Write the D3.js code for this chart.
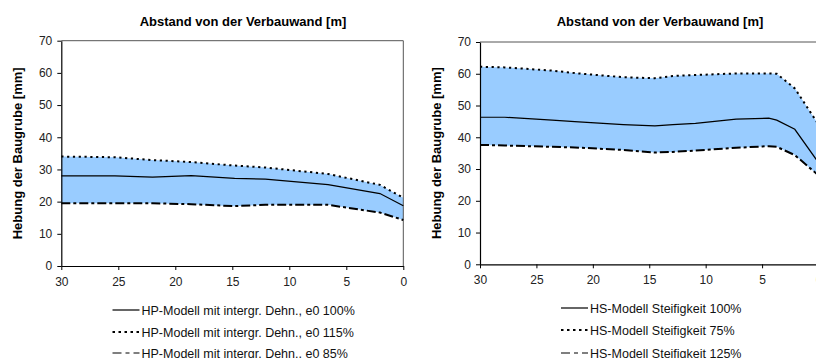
<!DOCTYPE html>
<html>
<head>
<meta charset="utf-8">
<script src="https://cdn.jsdelivr.net/npm/d3@7/dist/d3.min.js"></script>
<style>
  html, body { margin: 0; padding: 0; background: #fff; overflow: hidden; }
  svg { display: block; font-family: "Liberation Sans", Arial, sans-serif; }
</style>
</head>
<body>
<svg id="chart" width="816" height="358"></svg>
<script>
// Distance from the retaining wall [m] at which the heave was evaluated
const distHP = [30, 25.3, 22, 18.6, 14.8, 12.1, 6.6, 2.05, 0];
const distHS = [30, 27.8, 23.6, 21.6, 17.3, 14.5, 12.9, 10.9, 7.3, 4.4, 3.7, 2.1, 0];

// Heave of the excavation bottom [mm] – HP model with integrated dilatancy
const hpE0_100 = [28.0, 28.0, 27.6, 28.1, 27.2, 27.0, 25.3, 22.5, 18.7];
const hpE0_115 = [34.0, 33.8, 32.9, 32.3, 31.2, 30.6, 28.6, 25.2, 21.2];
const hpE0_85  = [19.5, 19.5, 19.5, 19.2, 18.6, 19.0, 19.0, 16.6, 14.3];

// Heave of the excavation bottom [mm] – HS model, varied stiffness
const hsStiff100 = [46.3, 46.3, 45.4, 44.9, 44.0, 43.6, 44.0, 44.4, 45.7, 46.0, 45.4, 42.5, 32.0];
const hsStiff75  = [62.2, 62.0, 61.0, 60.2, 58.9, 58.6, 59.3, 59.6, 60.1, 60.1, 60.0, 55.4, 44.0];
const hsStiff125 = [37.6, 37.4, 37.0, 36.8, 36.0, 35.2, 35.4, 35.8, 36.7, 37.2, 37.0, 34.4, 28.0];

const xTicks = [30, 25, 20, 15, 10, 5, 0];
const yTicks = [0, 10, 20, 30, 40, 50, 60, 70];

const titleText = "Abstand von der Verbauwand [m]";
const yLabelText = "Hebung der Baugrube [mm]";
const legendHP = ["HP-Modell mit intergr. Dehn., e0 100%", "HP-Modell mit intergr. Dehn., e0 115%", "HP-Modell mit intergr. Dehn., e0 85%"];
const legendHS = ["HS-Modell Steifigkeit 100%", "HS-Modell Steifigkeit 75%", "HS-Modell Steifigkeit 125%"];

const svg = d3.select("#chart");

const lineStyles = [
  { width: 1.2, dash: null, legendWidth: 1.2 },           // reference case
  { width: 2.0, dash: "2.2,3.6", legendWidth: 2.2, legendDash: "2.5,3.5" }, // dotted
  { width: 2.0, dash: "9,3,3,3", legendWidth: 1.2, legendDash: "9,4,4,4" } // dash-dot
];

function drawPanel(p) {
  const g = svg.append("g");
  const x = d3.scaleLinear().domain([30, 0]).range([p.left, p.right]);
  const y = d3.scaleLinear().domain([0, 70]).range([p.bottom, p.top]);

  const rows = p.dist.map((d, i) => ({ d, mid: p.mid[i], up: p.up[i], low: p.low[i] }));

  // band between upper and lower variant
  g.append("path")
    .datum(rows)
    .attr("fill", "#99CCFF")
    .attr("d", d3.area().x(r => x(r.d)).y0(r => y(r.low)).y1(r => y(r.up)));

  // plot frame
  g.append("path")
    .attr("d", `M${p.left},${p.top}H${p.right}V${p.bottom}`)
    .attr("fill", "none").attr("stroke", "#555").attr("stroke-width", 1);

  const series = [p.mid, p.up, p.low];
  series.forEach((vals, k) => {
    const st = lineStyles[k];
    g.append("path")
      .datum(p.dist.map((d, i) => [d, vals[i]]))
      .attr("fill", "none")
      .attr("stroke", "#000")
      .attr("stroke-width", st.width)
      .attr("stroke-dasharray", st.dash)
      .attr("d", d3.line().x(d => x(d[0])).y(d => y(d[1])));
  });

  const yAxis = g.append("g")
    .attr("transform", `translate(${p.left},0)`)
    .call(d3.axisLeft(y).tickValues(yTicks).tickSize(4).tickSizeOuter(0).tickPadding(5));
  const xAxis = g.append("g")
    .attr("transform", `translate(0,${p.bottom})`)
    .call(d3.axisBottom(x).tickValues(xTicks).tickSize(4).tickSizeOuter(0).tickPadding(7));
  [xAxis, yAxis].forEach(a => {
    a.select(".domain").attr("stroke", "#000").attr("stroke-width", 1.2);
    a.selectAll(".tick line").attr("stroke", "#000");
    a.selectAll(".tick text").attr("fill", "#222").style("font-size", "12px").style("font-family", "Liberation Sans, Arial, sans-serif");
  });

  g.append("text")
    .attr("x", p.titleX).attr("y", 26)
    .attr("text-anchor", "middle")
    .style("font-size", "13px").style("font-weight", "bold")
    .text(titleText);

  g.append("text")
    .attr("transform", `translate(${p.yLabelX},${(p.top + p.bottom) / 2}) rotate(-90)`)
    .attr("text-anchor", "middle")
    .style("font-size", "13px").style("font-weight", "bold")
    .text(yLabelText);

  p.legend.forEach((label, k) => {
    const st = lineStyles[k];
    const ly = p.legendY[k];
    g.append("line")
      .attr("x1", p.legendX).attr("x2", p.legendX + 27)
      .attr("y1", ly).attr("y2", ly)
      .attr("stroke", "#000")
      .attr("stroke-width", st.legendWidth)
      .attr("stroke-dasharray", st.legendDash || st.dash);
    g.append("text")
      .attr("x", p.legendX + 29).attr("y", ly + 4.5)
      .style("font-size", "12.5px")
      .attr("fill", "#111")
      .text(label);
  });
}

drawPanel({
  left: 61.3, right: 403.3, top: 40.7, bottom: 266,
  dist: distHP, mid: hpE0_100, up: hpE0_115, low: hpE0_85,
  titleX: 243, yLabelX: 22, legendX: 112.5, legendY: [310, 332, 353],
  legend: legendHP
});

drawPanel({
  left: 480, right: 818.5, top: 42, bottom: 264.3,
  dist: distHS, mid: hsStiff100, up: hsStiff75, low: hsStiff125,
  titleX: 660, yLabelX: 441, legendX: 561, legendY: [308, 330, 353],
  legend: legendHS
});
</script>
</body>
</html>
